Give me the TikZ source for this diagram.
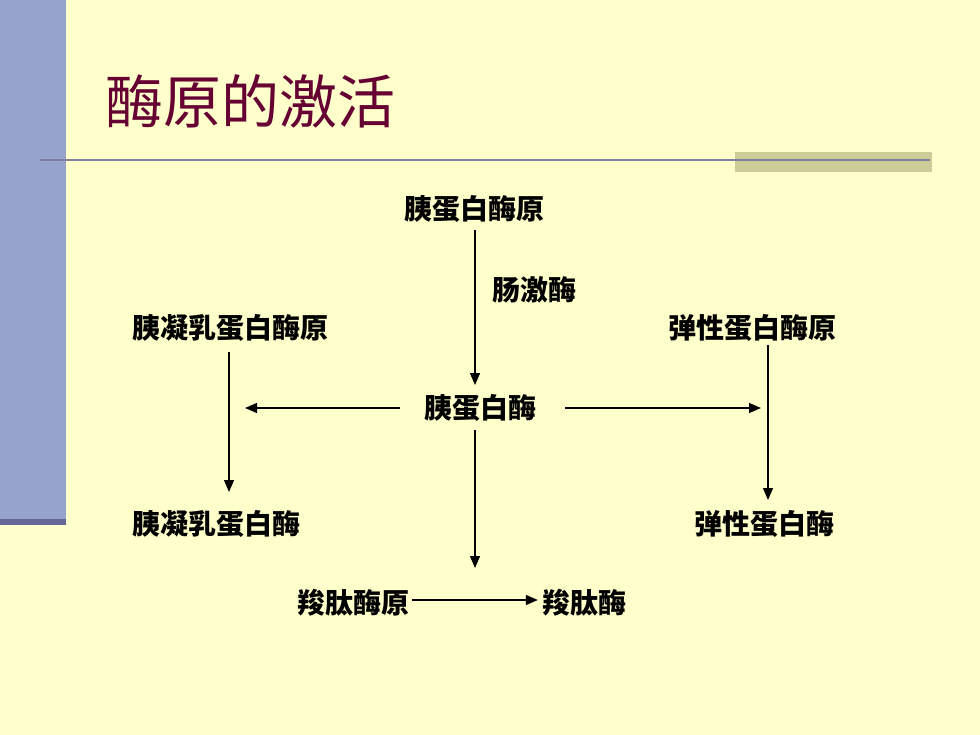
\documentclass[tikz,border=0pt]{standalone}
\usepackage{fontspec}
\newfontfamily\cjk{Noto Sans CJK SC}
\usetikzlibrary{arrows.meta}
\definecolor{bgyellow}{HTML}{FFFFCC}
\definecolor{barblue}{HTML}{96A3CD}
\definecolor{bardark}{HTML}{666699}
\definecolor{rulecol}{HTML}{7F7FA3}
\definecolor{olive}{HTML}{CCCC99}
\definecolor{titlered}{HTML}{660033}
\begin{document}
\begin{tikzpicture}[x=1pt,y=-1pt,
  lbl/.style={font=\cjk\bfseries\fontsize{28}{30}\selectfont, inner sep=0pt, text=black},
  arr/.style={line width=1.3pt, -{Triangle[length=12pt,width=10pt]}}]
\useasboundingbox (0,0) rectangle (980,735);
\fill[bgyellow] (0,0) rectangle (980,735);
\fill[barblue] (0,0) rectangle (66,521);
\fill[bardark] (0,519) rectangle (66,525);
\fill[olive] (735,152) rectangle (932,172);
\draw[rulecol, line width=2pt] (40,160) -- (930,160);
\node[font=\cjk\fontsize{58}{60}\selectfont, text=titlered, inner sep=0pt] (title) at (250,101) {酶原的激活};
% nodes
\node[lbl] (tp) at (474,209) {胰蛋白酶原};
\node[lbl, anchor=west] (ek) at (492,290) {肠激酶};
\node[lbl] (cp) at (230,328) {胰凝乳蛋白酶原};
\node[lbl] (ep) at (752,328) {弹性蛋白酶原};
\node[lbl] (t) at (480,408) {胰蛋白酶};
\node[lbl] (c) at (216,524) {胰凝乳蛋白酶};
\node[lbl] (e) at (764,524) {弹性蛋白酶};
\node[lbl] (pp) at (353,603) {羧肽酶原};
\node[lbl] (p) at (584,603) {羧肽酶};
% coordinates
\coordinate (a1s) at (475,230); \coordinate (a1e) at (475,385);
\coordinate (l1s) at (400,408); \coordinate (l1e) at (245,408);
\coordinate (r1s) at (565,408); \coordinate (r1e) at (761,408);
\coordinate (lvs) at (229,352); \coordinate (lve) at (229,492);
\coordinate (rvs) at (768,345); \coordinate (rve) at (768,500);
\coordinate (dvs) at (475,430); \coordinate (dve) at (475,568);
\draw[arr] (a1s) -- (a1e);
\draw[arr] (l1s) -- (l1e);
\draw[arr] (r1s) -- (r1e);
\draw[arr] (lvs) -- (lve);
\draw[arr] (rvs) -- (rve);
\draw[arr] (dvs) -- (dve);
\draw[arr] ([xshift=3pt]pp.east |- 0,600) -- ([xshift=-4pt]p.west |- 0,600);
\end{tikzpicture}
\end{document}
